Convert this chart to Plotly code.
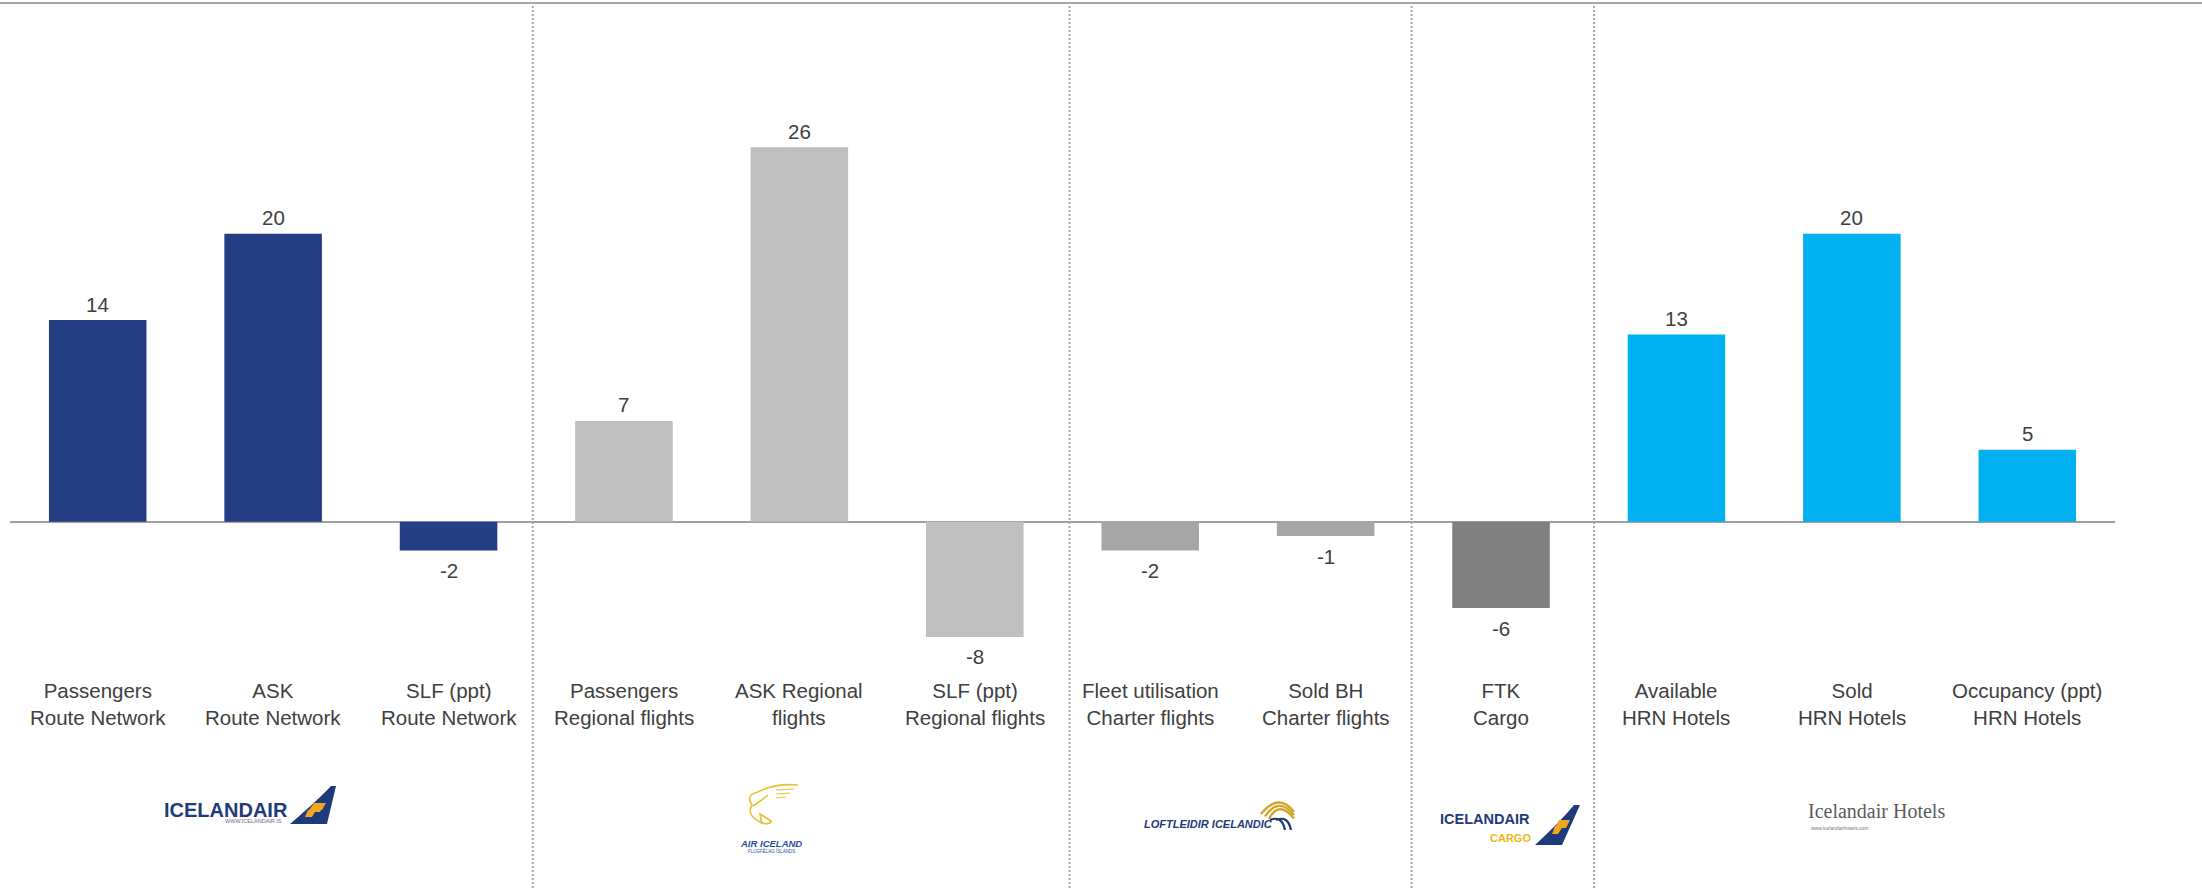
import plotly.graph_objects as go

# ---- data -------------------------------------------------------------
categories = [
    "Passengers<br>Route Network",
    "ASK<br>Route Network",
    "SLF (ppt)<br>Route Network",
    "Passengers<br>Regional flights",
    "ASK Regional<br>flights",
    "SLF (ppt)<br>Regional flights",
    "Fleet utilisation<br>Charter flights",
    "Sold BH<br>Charter flights",
    "FTK<br>Cargo",
    "Available<br>HRN Hotels",
    "Sold<br>HRN Hotels",
    "Occupancy (ppt)<br>HRN Hotels",
]
values = [14, 20, -2, 7, 26, -8, -2, -1, -6, 13, 20, 5]
segments = ["route"] * 3 + ["regional"] * 3 + ["charter"] * 2 + ["cargo"] + ["hotels"] * 3

# ---- styling ----------------------------------------------------------
segment_colors = {
    "route": "#253D82",
    "regional": "#BFBFBF",
    "charter": "#A6A6A6",
    "cargo": "#808080",
    "hotels": "#00B0F0",
}
bar_colors = [segment_colors[s] for s in segments]

W, H = 2202, 888
ML, MR = 10, 87
PW = W - ML - MR
TEXT = "#404040"
FONT = "Liberation Sans, Arial, sans-serif"
NAVY = "#1F3A7A"
GOLD = "#F2B515"
ORANGE = "#F0A61E"


def px(x):
    return (x - ML) / PW


def py(y):
    return 1 - y / H


def path(*cmds):
    out = []
    for c in cmds:
        op, pts = c[0], c[1:]
        coords = " ".join(f"{px(a):.5f},{py(b):.5f}" for a, b in pts)
        out.append(f"{op} {coords}" if pts else op)
    return " ".join(out)


fig = go.Figure(
    go.Bar(
        x=categories,
        y=values,
        marker=dict(color=bar_colors, line=dict(width=0)),
        hoverinfo="x+y",
    )
)

annotations = []
# value labels above / below each bar
for c, v in zip(categories, values):
    annotations.append(dict(
        x=c, y=v, xref="x", yref="y", text=str(v), showarrow=False,
        yanchor="middle", yshift=16 if v >= 0 else -20,
        font=dict(family=FONT, size=20.5, color=TEXT),
    ))
# category labels
for c in categories:
    annotations.append(dict(
        x=c, y=py(703.5), xref="x", yref="paper", text=c, showarrow=False,
        yanchor="middle", align="center",
        font=dict(family=FONT, size=20.5, color=TEXT),
    ))


def txt(x, y, s, size, color, family=FONT, anchor="center", weight="normal", style="normal"):
    annotations.append(dict(
        x=px(x), y=py(y), xref="paper", yref="paper", text=s, showarrow=False,
        xanchor=anchor, yanchor="middle",
        font=dict(family=family, size=size, color=color, weight=weight, style=style),
    ))


shapes = []

# top rule and segment separators
shapes.append(dict(type="line", xref="paper", yref="paper",
                   x0=px(0), x1=px(W), y0=py(3), y1=py(3),
                   line=dict(color="#A6A6A6", width=2)))
for xs in [2.48, 5.54, 7.49, 8.53]:
    shapes.append(dict(type="line", xref="x", yref="paper",
                       x0=xs, x1=xs, y0=py(H), y1=py(6),
                       line=dict(color="#A8A8A8", width=2, dash="2px,2px")))

# --- Icelandair ---
txt(226, 810, "ICELANDAIR", 20, NAVY, weight="bold")
txt(253, 821, "WWW.ICELANDAIR.IS", 5.5, "#6A6A7A")
shapes.append(dict(type="path", xref="paper", yref="paper", line=dict(width=0),
                   fillcolor=NAVY,
                   path=path(("M", (290, 824)), ("Q", (318, 800), (331, 786)),
                             ("L", (336, 786)), ("L", (327, 824)), ("Z",))))
shapes.append(dict(type="path", xref="paper", yref="paper", line=dict(width=0),
                   fillcolor=ORANGE,
                   path=path(("M", (309, 810)), ("L", (322, 810)), ("L", (326, 803)),
                             ("L", (314, 803)), ("Z",))))
shapes.append(dict(type="path", xref="paper", yref="paper", line=dict(width=0),
                   fillcolor=ORANGE,
                   path=path(("M", (305, 817)), ("L", (312, 817)), ("L", (315, 812)),
                             ("L", (320, 812)), ("L", (321, 810)), ("L", (308, 810)), ("Z",))))

# --- Air Iceland ---
bird = dict(color="#E8C030", width=1.6)
shapes.append(dict(type="path", xref="paper", yref="paper", line=bird,
                   path=path(("M", (758, 792)), ("Q", (775, 783), (798, 785)))))
shapes.append(dict(type="path", xref="paper", yref="paper", line=bird,
                   path=path(("M", (758, 792)), ("Q", (745, 795), (752, 805)),
                             ("Q", (746, 815), (760, 822)), ("Q", (768, 826), (772, 821)))))
shapes.append(dict(type="path", xref="paper", yref="paper", line=bird,
                   path=path(("M", (753, 806)), ("Q", (762, 800), (768, 795)))))
shapes.append(dict(type="path", xref="paper", yref="paper", line=bird,
                   path=path(("M", (762, 824)), ("L", (760, 814)), ("L", (771, 821)))))
for y0, x1 in [(790, 794), (794, 790), (798, 786)]:
    shapes.append(dict(type="line", xref="paper", yref="paper", line=dict(color="#E8C030", width=1.2),
                       x0=px(776), x1=px(x1), y0=py(y0), y1=py(y0 - 1)))
txt(771, 843, "AIR ICELAND", 9.5, "#2B4C9B", weight="bold", style="italic")
txt(771, 851, "FLUGFÉLAG ÍSLANDS", 4.5, "#2B4C9B")

# --- Loftleidir Icelandic ---
txt(1208, 824, "LOFTLEIDIR ICELANDIC", 11, NAVY, weight="bold", style="italic")
for i, off in enumerate([0, 4, 8]):
    shapes.append(dict(type="path", xref="paper", yref="paper",
                       line=dict(color="#D2A72E", width=2.4),
                       path=path(("M", (1261 + off, 814 + off * 0.6)),
                                 ("Q", (1279, 792 + off), (1294, 812 + off * 0.8)))))
for off in [0, 6]:
    shapes.append(dict(type="path", xref="paper", yref="paper",
                       line=dict(color=NAVY, width=2.2),
                       path=path(("M", (1270 + off, 820)), ("Q", (1282 + off, 815), (1285 + off, 830)))))

# --- Icelandair Cargo ---
txt(1485, 819, "ICELANDAIR", 14.5, NAVY, weight="bold")
txt(1510, 837.5, "CARGO", 11, GOLD, weight="bold")
shapes.append(dict(type="path", xref="paper", yref="paper", line=dict(width=0),
                   fillcolor=NAVY,
                   path=path(("M", (1535, 845)), ("Q", (1560, 822), (1574, 805)),
                             ("L", (1580, 805)), ("L", (1562, 845)), ("Z",))))
shapes.append(dict(type="path", xref="paper", yref="paper", line=dict(width=0),
                   fillcolor=ORANGE,
                   path=path(("M", (1556, 826)), ("L", (1567, 826)), ("L", (1570, 820)),
                             ("L", (1559, 820)), ("Z",))))
shapes.append(dict(type="path", xref="paper", yref="paper", line=dict(width=0),
                   fillcolor=ORANGE,
                   path=path(("M", (1552, 834)), ("L", (1558, 834)), ("L", (1562, 828)),
                             ("L", (1566, 828)), ("L", (1567, 826)), ("L", (1555, 826)), ("Z",))))

# --- Icelandair Hotels ---
txt(1876, 811, "Icelandair Hotels", 20, "#5A5A5A", family="Liberation Serif, Times New Roman, serif")
txt(1840, 828, "www.icelandairhotels.com", 5, "#777777")

fig.update_layout(
    width=W, height=H,
    margin=dict(l=ML, r=MR, t=0, b=0),
    paper_bgcolor="white", plot_bgcolor="white",
    bargap=0.444,
    showlegend=False,
    xaxis=dict(range=[-0.5, 11.5], showticklabels=False, showgrid=False,
               zeroline=False, showline=False, ticks=""),
    yaxis=dict(range=[-25.44, 36.23], showticklabels=False, showgrid=False,
               zeroline=True, zerolinecolor="#A0A0A0", zerolinewidth=2,
               showline=False, ticks=""),
    annotations=annotations,
    shapes=shapes,
)

fig.write_html("out.html")
